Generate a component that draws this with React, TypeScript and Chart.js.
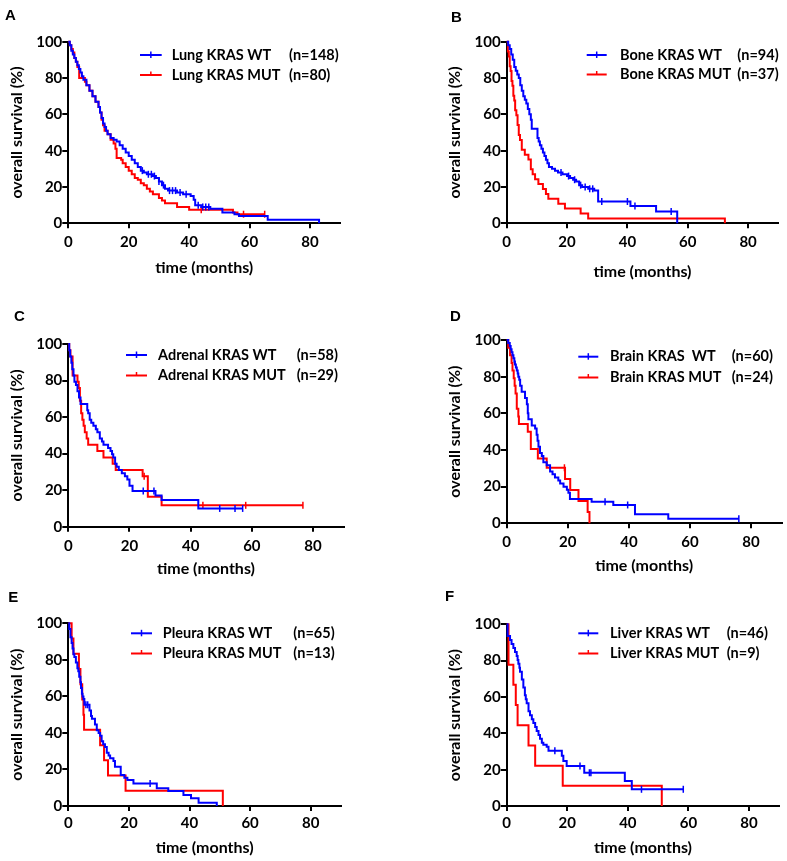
import React, { useEffect, useRef } from 'react';
import { Chart, registerables } from 'chart.js';
Chart.register(...registerables);

const FONT = 'Lato, "Open Sans", sans-serif';
const LETTER_FONT = '"Liberation Sans", Arial, sans-serif';
const BLUE = '#0000ff';
const RED = '#ff0000';

// ---- axis ticks ----
const xTicks = [0, 20, 40, 60, 80];
const yTicks = [0, 20, 40, 60, 80, 100];

// ---- panel categories ----
const panelLetters = ['A', 'B', 'C', 'D', 'E', 'F'];
const wtLabels = ['Lung KRAS WT', 'Bone KRAS WT', 'Adrenal KRAS WT', 'Brain KRAS  WT', 'Pleura KRAS WT', 'Liver KRAS WT'];
const mutLabels = ['Lung KRAS MUT', 'Bone KRAS MUT', 'Adrenal KRAS MUT', 'Brain KRAS MUT', 'Pleura KRAS MUT', 'Liver KRAS MUT'];
const wtN = ['(n=148)', '(n=94)', '(n=58)', '(n=60)', '(n=65)', '(n=46)'];
const mutN = ['(n=80)', '(n=37)', '(n=29)', '(n=24)', '(n=13)', '(n=9)'];

// ---- A: Lung ----
const lungWtT = [0, 0.5, 1, 1.5, 2, 2.5, 3, 3.5, 4, 4.5, 5, 6, 7, 8, 9, 10, 10.5, 11, 11.5, 12, 12.5, 13, 14, 15, 16, 17, 18, 19, 20, 21, 22, 23, 24, 25, 26, 28, 29, 30, 31, 32, 33, 36, 38, 40.5, 41.5, 42, 44, 47, 51, 55, 56.5, 66, 83];
const lungWtS = [100, 98, 95, 93, 91, 89, 87, 85, 83, 81, 79, 76, 73, 70, 67, 64, 61, 58, 55, 53, 51, 49, 47, 46, 45, 43, 41, 39, 37, 35, 33, 31, 29, 28, 27, 26, 25, 23, 21, 19, 18, 17, 16, 15, 13, 10, 9, 8, 6, 5, 4, 2, 0];
const lungWtCens = [24.5, 26.5, 27.5, 28.5, 30, 31.5, 33.5, 34.5, 35.5, 37, 39, 43, 44.5, 45.5, 46.5];
const lungMutT = [0, 0.5, 1, 1.5, 2, 2.5, 3, 3.6, 5.5, 6, 7, 8, 9, 10, 10.5, 11, 11.5, 12, 13, 14, 15, 15.6, 16, 17.5, 18, 19, 20, 21, 22, 23, 24, 25, 26, 27, 28, 30, 31, 32, 36, 40, 54.5, 56, 65];
const lungMutS = [100, 98, 96, 94, 91, 89, 86, 80, 78, 76, 73, 70, 67, 64, 61, 57, 54, 51, 49, 46, 44, 41, 36, 35, 33, 31, 29, 27, 25, 24, 22, 21, 19, 17.5, 16, 14, 12.5, 11, 9, 7.5, 6, 5, 5];
const lungMutCens = [44, 58, 65];

// ---- B: Bone ----
const boneWtT = [0, 0.5, 1, 1.5, 2, 2.5, 3, 3.5, 4, 4.5, 5, 5.5, 6, 6.5, 7, 7.5, 8, 8.3, 10.2, 10.6, 11, 11.5, 12, 12.5, 13, 13.5, 14, 15, 16, 17, 18.5, 20, 21, 22, 23, 24, 25, 27, 29, 30.3, 41, 49.5, 56.5];
const boneWtS = [100, 98, 96, 93, 90, 86, 84, 82, 80, 76, 73, 70, 68, 66, 63, 60, 57, 52, 47, 45, 43, 41, 39, 37, 35, 33, 31, 30, 29, 28, 27, 26, 25, 24, 23, 21, 20, 19, 18, 12, 9.5, 6.5, 0];
const boneWtCens = [18, 20.5, 22.5, 24.5, 26, 27.5, 28.5, 31.5, 40, 42.5, 54.5];
const boneMutT = [0, 0.4, 0.7, 1.0, 1.3, 1.6, 1.9, 2.2, 2.5, 2.8, 3.2, 3.6, 4.0, 4.4, 5.0, 6.0, 7.2, 8.0, 8.6, 9.4, 10.5, 12.0, 13.0, 13.8, 17.1, 19.3, 24.5, 27.0, 72.3];
const boneMutS = [100, 94.6, 91.9, 86.5, 83.8, 78.4, 75.7, 70.3, 67.6, 62.2, 59.5, 54.1, 48.6, 45.9, 40.5, 37.8, 35.1, 29.7, 27.0, 24.3, 21.6, 18.9, 16.2, 13.5, 10.8, 8.1, 5.4, 2.7, 0];
const boneMutCens: number[] = [];

// ---- C: Adrenal ----
const adrWtT = [0, 0.3, 0.6, 1.0, 1.3, 1.7, 2.0, 2.5, 3.0, 3.5, 4.0, 6.2, 6.5, 7.0, 7.5, 8.2, 9.0, 9.5, 10.3, 11.0, 11.5, 13.0, 13.8, 14.3, 14.7, 15.3, 15.8, 16.5, 17.5, 18.5, 19.3, 20.0, 21.0, 28.5, 30.5, 42.5, 57];
const adrWtS = [100, 96.6, 93.1, 89.7, 86.2, 82.8, 79.3, 77.6, 74.1, 70.7, 67.2, 63.8, 62.1, 58.6, 56.9, 55.2, 53.4, 51.7, 48.3, 46.6, 44.8, 43.1, 41.4, 39.7, 37.9, 34.5, 32.8, 31.0, 29.3, 27.6, 25.9, 22.4, 19.5, 17.1, 14.6, 10, 10];
const adrWtCens = [24.5, 28, 49.5, 54.5, 57];
const adrMutT = [0, 0.3, 0.7, 1.4, 3.0, 3.4, 3.8, 4.2, 4.6, 5.0, 5.4, 6.0, 6.5, 9.5, 11.5, 14.5, 15.5, 24.3, 26.0, 30.5, 76.7];
const adrMutS = [100, 96.6, 93.1, 82.8, 79.3, 75.9, 69.0, 62.1, 58.6, 55.2, 51.7, 48.3, 44.8, 41.4, 37.9, 34.5, 31.0, 27.6, 16.4, 11.7, 11.7];
const adrMutCens = [24.8, 44, 58, 76.7];

// ---- D: Brain ----
const brWtT = [0, 0.5, 1.0, 1.3, 1.6, 1.9, 2.2, 2.5, 2.7, 3.0, 3.3, 3.6, 3.8, 4.1, 4.4, 4.9, 6.0, 6.6, 6.9, 7.1, 8.2, 9.3, 9.8, 10.1, 10.4, 10.9, 11.5, 12.0, 13.1, 14.2, 15.0, 15.8, 16.9, 17.5, 18.6, 19.7, 20.2, 20.7, 27.8, 34.9, 42.0, 52.9, 76];
const brWtS = [100, 98.3, 96.7, 95, 93.3, 91.7, 90, 88.3, 86.7, 85, 83.3, 81.7, 80, 78.3, 75, 71.7, 68.3, 65, 60, 56.7, 53.3, 51.7, 48.3, 45, 41.7, 38.3, 36.7, 33.3, 31.7, 28.3, 26.7, 25, 23.3, 21.7, 20, 18.3, 16.7, 13.3, 11.7, 10, 5, 2.5, 2.5];
const brWtCens = [32.2, 39.6, 76];
const brMutT = [0, 0.5, 1.1, 1.6, 1.9, 2.3, 2.6, 2.9, 3.3, 3.8, 4.0, 6.9, 7.9, 10.2, 13.1, 19.1, 20.8, 23.5, 26.5, 27.1];
const brMutS = [100, 95.8, 91.7, 87.5, 83.3, 79.2, 75, 70.8, 62.5, 58.3, 54.2, 50, 40.6, 35.4, 30.3, 24.2, 18.2, 12.1, 6.1, 0];
const brMutCens = [18.9];

// ---- E: Pleura ----
const plWtT = [0, 0.3, 0.7, 1.1, 1.4, 1.7, 2.0, 2.5, 3.0, 3.3, 3.6, 4.0, 4.2, 4.5, 4.7, 5.0, 5.3, 7.0, 7.5, 7.8, 8.8, 9.4, 10.0, 10.5, 11.0, 11.5, 12.1, 12.7, 13.3, 13.8, 14.9, 15.4, 17.3, 18.5, 19.5, 21.5, 29.2, 33.0, 38.0, 40.5, 43.0, 49.0];
const plWtS = [100, 96.9, 92.3, 89.2, 86.2, 83.1, 81.5, 78.5, 75.4, 73.8, 70.8, 67.7, 64.6, 61.5, 60, 58.5, 55.4, 52.3, 49.2, 47.7, 44.6, 41.5, 40, 38.5, 35.4, 33.8, 32.3, 29.2, 27.7, 26.2, 24.6, 21.5, 16.9, 15.4, 14.2, 12.3, 9.7, 8.2, 6.0, 4.2, 1.8, 0];
const plWtCens = [5.8, 6.4, 27];
const plMutT = [0, 1.1, 1.7, 3.5, 4.0, 4.6, 5.0, 5.2, 10.5, 11.8, 13.1, 18.9, 51];
const plMutS = [100, 91.7, 83.3, 75, 66.7, 58.3, 50, 41.7, 33.3, 25, 16.7, 8.3, 0];
const plMutCens: number[] = [];

// ---- F: Liver ----
const livWtT = [0, 0.3, 1.1, 1.6, 2.2, 2.75, 3.3, 3.6, 3.85, 4.2, 4.4, 5.0, 5.5, 6.0, 6.3, 6.6, 7.2, 7.7, 8.3, 8.8, 9.4, 9.9, 10.5, 11.0, 11.6, 12.1, 13.2, 13.8, 18.2, 18.7, 19.8, 25.6, 39.0, 41.3, 58.3];
const livWtS = [100, 93.5, 91.3, 89.1, 87.0, 84.8, 82.6, 80.4, 78.3, 76.1, 73.9, 69.6, 65.2, 60.9, 58.7, 56.5, 52.2, 50.0, 47.8, 45.7, 43.5, 41.3, 39.1, 37.0, 34.8, 33.7, 32.6, 30.4, 27.6, 24.8, 22.0, 18.3, 13.7, 9.2, 9.2];
const livWtCens = [15.9, 24.2, 27.3, 27.8, 44.5, 58.3];
const livMutT = [0, 0.6, 2.2, 3.0, 3.6, 7.2, 9.4, 18.5, 51.2];
const livMutS = [100, 77.8, 66.7, 55.6, 44.4, 33.3, 22.2, 11.1, 0];
const livMutCens: number[] = [];

// ---- layout (page positions, sizes) ----
const layouts = [
  { x: 0, y: 0, w: 393, h: 280, left: 68.3, right: 340.2, top: 41.7, bottom: 223.3, yTitleX: 16.7, xTitleY: 268, xTickD: 18.4, l0: 140, l1: 161.7, tx: 171.7, nx: 289, ly: [55, 75], lx: 5, lyb: 20 },
  { x: 393, y: 0, w: 394, h: 280, left: 113.7, right: 385.3, top: 41.7, bottom: 223.3, yTitleX: 62, xTitleY: 271.7, xTickD: 18.4, l0: 193.7, l1: 213.7, tx: 227, nx: 344.3, ly: [55, 74.5], lx: 58, lyb: 22 },
  { x: 0, y: 280, w: 393, h: 300, left: 68.3, right: 343.6, top: 64, bottom: 246.7, yTitleX: 16.7, xTitleY: 289.3, xTickD: 19, l0: 126, l1: 147, tx: 158, nx: 296.7, ly: [75, 95.5], lx: 14, lyb: 40.5 },
  { x: 393, y: 280, w: 394, h: 300, left: 113.7, right: 388.6, top: 60, bottom: 243.3, yTitleX: 62, xTitleY: 286, xTickD: 18.4, l0: 185.3, l1: 205.3, tx: 217, nx: 338.7, ly: [76.7, 97.5], lx: 57, lyb: 40.5 },
  { x: 0, y: 580, w: 393, h: 281, left: 68.3, right: 341, top: 43.3, bottom: 226, yTitleX: 16.7, xTitleY: 268.3, xTickD: 17.5, l0: 131, l1: 152, tx: 162.7, nx: 293.3, ly: [53.3, 73.5], lx: 8.3, lyb: 22 },
  { x: 393, y: 580, w: 394, h: 281, left: 113.7, right: 386.3, top: 44.3, bottom: 226, yTitleX: 62, xTitleY: 268.3, xTickD: 17.5, l0: 185.3, l1: 205.3, tx: 217, nx: 333.7, ly: [53.3, 73.5], lx: 52, lyb: 20.5 },
];

const series = [
  { wtT: lungWtT, wtS: lungWtS, wtC: lungWtCens, mutT: lungMutT, mutS: lungMutS, mutC: lungMutCens },
  { wtT: boneWtT, wtS: boneWtS, wtC: boneWtCens, mutT: boneMutT, mutS: boneMutS, mutC: boneMutCens },
  { wtT: adrWtT, wtS: adrWtS, wtC: adrWtCens, mutT: adrMutT, mutS: adrMutS, mutC: adrMutCens },
  { wtT: brWtT, wtS: brWtS, wtC: brWtCens, mutT: brMutT, mutS: brMutS, mutC: brMutCens },
  { wtT: plWtT, wtS: plWtS, wtC: plWtCens, mutT: plMutT, mutS: plMutS, mutC: plMutCens },
  { wtT: livWtT, wtS: livWtS, wtC: livWtCens, mutT: livMutT, mutS: livMutS, mutC: livMutCens },
];

function levelAt(T: number[], S: number[], t: number) {
  let v = S[0];
  for (let i = 0; i < T.length; i++) if (T[i] <= t) v = S[i];
  return v;
}

function Panel({ idx }: { idx: number }) {
  const ref = useRef<HTMLCanvasElement>(null);
  const L = layouts[idx];
  useEffect(() => {
    const s = series[idx];
    const pts = (T: number[], S: number[]) => T.map((t, i) => ({ x: t, y: S[i] }));
    const cens = (T: number[], S: number[], C: number[]) => C.map((t) => ({ x: t, y: levelAt(T, S, t) }));
    const lineDs = (data: any, color: string) => ({
      data, showLine: true, stepped: 'before', borderColor: color, backgroundColor: color,
      borderWidth: 2, pointRadius: 0, pointHoverRadius: 0, clip: false, fill: false,
    });
    const censDs = (data: any, color: string) => ({
      data, showLine: false, pointStyle: 'line', rotation: 90, pointRadius: 3.5, pointHoverRadius: 3.5,
      borderColor: color, backgroundColor: color, borderWidth: 1.5, clip: false,
    });
    const legendItems = [
      { color: BLUE, label: wtLabels[idx], n: wtN[idx] },
      { color: RED, label: mutLabels[idx], n: mutN[idx] },
    ];
    const decor = {
      id: 'kmDecor' + idx,
      afterDraw(chart: any) {
        const ctx = chart.ctx;
        ctx.save();
        ctx.fillStyle = '#000';
        ctx.textAlign = 'left';
        ctx.textBaseline = 'alphabetic';
        ctx.font = `bold 15px ${LETTER_FONT}`;
        ctx.fillText(panelLetters[idx], L.lx, L.lyb);
        ctx.font = `bold 14.5px ${FONT}`;
        ctx.textBaseline = 'middle';
        legendItems.forEach((it, i) => {
          const y = L.ly[i];
          ctx.strokeStyle = it.color;
          ctx.lineWidth = 2;
          ctx.beginPath();
          ctx.moveTo(L.l0, y);
          ctx.lineTo(L.l1, y);
          ctx.stroke();
          const mx = (L.l0 + L.l1) / 2;
          ctx.lineWidth = 1.5;
          ctx.beginPath();
          ctx.moveTo(mx, y - 3.5);
          ctx.lineTo(mx, y + (i === 0 ? 3 : 0));
          ctx.stroke();
          ctx.fillStyle = '#000';
          ctx.fillText(it.label, L.tx, y);
          ctx.fillText(it.n, L.nx, y);
        });
        ctx.restore();
      },
    };
    const tickFont = { family: FONT, size: 15, weight: 'bold', lineHeight: 1 };
    const titleFont = { family: FONT, size: 16, weight: 'bold', lineHeight: 1 };
    const chart = new Chart(ref.current as HTMLCanvasElement, {
      type: 'scatter',
      data: {
        datasets: [
          lineDs(pts(s.wtT, s.wtS), BLUE),
          censDs(cens(s.wtT, s.wtS, s.wtC), BLUE),
          lineDs(pts(s.mutT, s.mutS), RED),
          censDs(cens(s.mutT, s.mutS, s.mutC), RED),
        ],
      } as any,
      options: {
        animation: false,
        responsive: false,
        maintainAspectRatio: false,
        events: [],
        layout: { padding: { left: 0, top: L.top, right: L.w - L.right, bottom: 0 } },
        scales: {
          x: {
            type: 'linear', min: 0, max: 90,
            afterBuildTicks: (sc: any) => { sc.ticks = xTicks.map((v) => ({ value: v })); },
            afterFit: (sc: any) => { sc.height = L.h - L.bottom; },
            border: { display: true, color: '#000', width: 2 },
            grid: { drawOnChartArea: false, drawTicks: true, tickLength: 5, color: '#000', lineWidth: 2 },
            ticks: { color: '#000', font: tickFont, padding: L.xTickD - 5 - 7.5, maxRotation: 0, autoSkip: false },
            title: { display: true, text: 'time (months)', color: '#000', font: titleFont, padding: { top: 0, bottom: L.h - 8 - L.xTitleY } },
          },
          y: {
            type: 'linear', min: 0, max: 100,
            afterBuildTicks: (sc: any) => { sc.ticks = yTicks.map((v) => ({ value: v })); },
            afterFit: (sc: any) => { sc.width = L.left; },
            border: { display: true, color: '#000', width: 2 },
            grid: { drawOnChartArea: false, drawTicks: true, tickLength: 6, color: '#000', lineWidth: 2 },
            ticks: { color: '#000', font: tickFont, padding: 0 },
            title: { display: true, text: 'overall survival (%)', color: '#000', font: titleFont, padding: { top: L.yTitleX - 8, bottom: 0 } },
          },
        },
        plugins: { legend: { display: false }, tooltip: { enabled: false } },
      } as any,
      plugins: [decor],
    });
    return () => chart.destroy();
  }, []);
  return (
    <canvas
      ref={ref}
      width={L.w}
      height={L.h}
      style={{ position: 'absolute', left: L.x, top: L.y, width: L.w, height: L.h }}
    />
  );
}

export default function App() {
  return (
    <div style={{ position: 'absolute', left: 0, top: 0, width: 787, height: 861, background: '#fff', overflow: 'hidden' }}>
      {panelLetters.map((_, i) => (
        <Panel key={i} idx={i} />
      ))}
    </div>
  );
}
